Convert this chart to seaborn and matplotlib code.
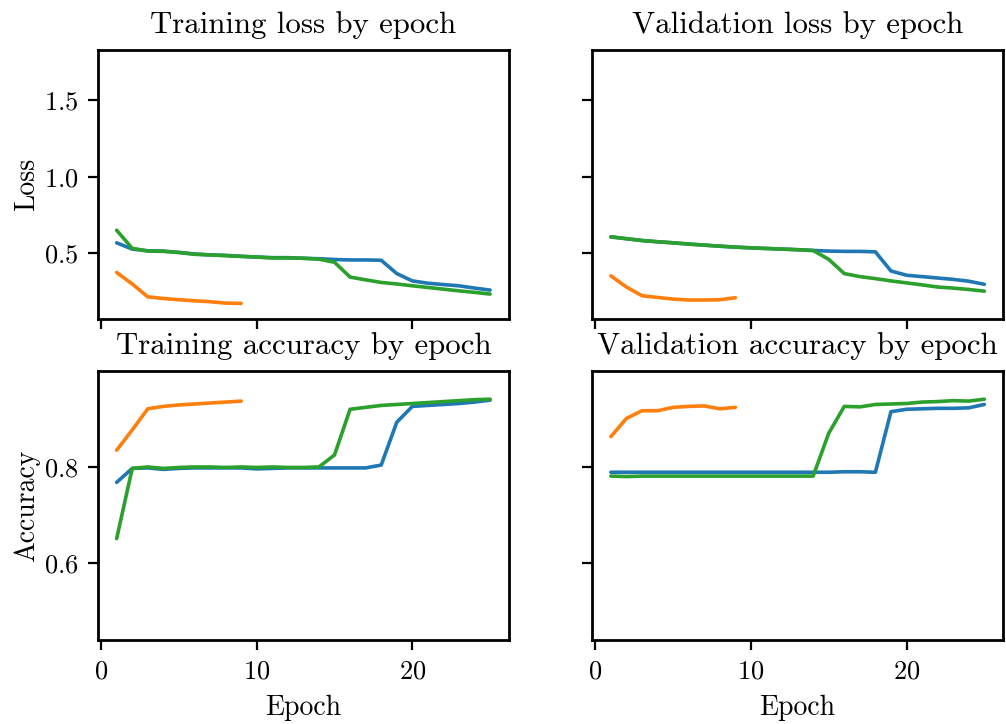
import numpy as np
import pandas as pd
import matplotlib
matplotlib.use("Agg")
import matplotlib.pyplot as plt
import seaborn as sns

# Per-run metric histories (epochs start at 1)
epochs_long = list(range(1, 26))
epochs_short = list(range(1, 10))

train_loss_a = [0.569, 0.528, 0.517, 0.515, 0.506, 0.496, 0.490, 0.487, 0.481, 0.476,
                0.472, 0.472, 0.468, 0.465, 0.460, 0.457, 0.457, 0.455, 0.368, 0.320,
                0.305, 0.296, 0.288, 0.273, 0.260]
train_loss_b = [0.375, 0.300, 0.216, 0.205, 0.197, 0.190, 0.184, 0.175, 0.173]
train_loss_c = [0.651, 0.533, 0.515, 0.513, 0.506, 0.494, 0.490, 0.485, 0.480, 0.476,
                0.470, 0.470, 0.468, 0.462, 0.442, 0.345, 0.327, 0.310, 0.300, 0.288,
                0.277, 0.266, 0.255, 0.245, 0.234]

val_loss_a = [0.608, 0.596, 0.584, 0.576, 0.569, 0.561, 0.554, 0.547, 0.541, 0.536,
              0.532, 0.528, 0.524, 0.519, 0.515, 0.513, 0.513, 0.510, 0.385, 0.357,
              0.348, 0.339, 0.330, 0.318, 0.298]
val_loss_b = [0.353, 0.280, 0.223, 0.212, 0.201, 0.195, 0.195, 0.197, 0.210]
val_loss_c = [0.608, 0.596, 0.584, 0.576, 0.569, 0.561, 0.554, 0.547, 0.541, 0.536,
              0.532, 0.528, 0.524, 0.519, 0.461, 0.368, 0.348, 0.335, 0.320, 0.307,
              0.294, 0.280, 0.273, 0.264, 0.253]

train_acc_a = [0.768, 0.797, 0.798, 0.795, 0.797, 0.798, 0.798, 0.798, 0.798, 0.796,
               0.797, 0.798, 0.798, 0.798, 0.798, 0.798, 0.798, 0.804, 0.893, 0.926,
               0.928, 0.930, 0.932, 0.935, 0.939]
train_acc_b = [0.835, 0.877, 0.921, 0.926, 0.929, 0.931, 0.933, 0.935, 0.937]
train_acc_c = [0.651, 0.797, 0.800, 0.797, 0.799, 0.800, 0.800, 0.799, 0.800, 0.799,
               0.800, 0.799, 0.799, 0.800, 0.825, 0.920, 0.924, 0.928, 0.930, 0.932,
               0.934, 0.936, 0.938, 0.940, 0.941]

val_acc_a = [0.789, 0.789, 0.789, 0.789, 0.789, 0.789, 0.789, 0.789, 0.789, 0.789,
             0.789, 0.789, 0.789, 0.789, 0.789, 0.790, 0.790, 0.789, 0.915, 0.920,
             0.921, 0.922, 0.922, 0.923, 0.930]
val_acc_b = [0.863, 0.901, 0.917, 0.917, 0.924, 0.926, 0.927, 0.921, 0.924]
val_acc_c = [0.781, 0.780, 0.781, 0.781, 0.781, 0.781, 0.781, 0.781, 0.781, 0.781,
             0.781, 0.781, 0.781, 0.781, 0.870, 0.926, 0.925, 0.930, 0.931, 0.932,
             0.935, 0.936, 0.938, 0.937, 0.941]

runs = ["run_a", "run_b", "run_c"]
titles = ["Training loss by epoch", "Validation loss by epoch",
          "Training accuracy by epoch", "Validation accuracy by epoch"]


def frame(series):
    rows = []
    for run, ys in zip(runs, series):
        for e, v in zip(epochs_long if len(ys) == 25 else epochs_short, ys):
            rows.append({"epoch": e, "value": v, "run": run})
    return pd.DataFrame(rows)


panels = [
    frame([train_loss_a, train_loss_b, train_loss_c]),
    frame([val_loss_a, val_loss_b, val_loss_c]),
    frame([train_acc_a, train_acc_b, train_acc_c]),
    frame([val_acc_a, val_acc_b, val_acc_c]),
]

sns.set_theme(style="ticks", rc={
    "axes.edgecolor": "black",
    "xtick.color": "black",
    "ytick.color": "black",
    "text.color": "black",
    "axes.labelcolor": "black",
    "axes.linewidth": 1.0,
})
plt.rcParams["font.family"] = "serif"
plt.rcParams["font.serif"] = ["cmr10", "DejaVu Serif"]
plt.rcParams["mathtext.fontset"] = "cm"
plt.rcParams["axes.formatter.use_mathtext"] = True

palette = dict(zip(runs, sns.color_palette("tab10", 3)))

fig, axes = plt.subplots(2, 2, figsize=(5.03, 3.62), dpi=200, sharex=True, sharey="row")
fig.subplots_adjust(left=0.0974, right=0.997, top=0.931, bottom=0.116,
                    wspace=0.203, hspace=0.192)

for ax, df, title in zip(axes.flat, panels, titles):
    sns.lineplot(data=df, x="epoch", y="value", hue="run", hue_order=runs,
                 palette=palette, linewidth=1.3, legend=False, ax=ax)
    ax.set_title(title, fontsize=11.1, pad=6)
    ax.set_xlabel("")
    ax.set_ylabel("")
    ax.tick_params(labelsize=9.5, length=3.5, width=0.8)

axes[0, 0].set_ylim(0.07, 1.83)
axes[0, 0].set_yticks([0.5, 1.0, 1.5])
axes[1, 0].set_ylim(0.44, 1.0)
axes[1, 0].set_yticks([0.6, 0.8])
axes[0, 0].set_xticks([0, 10, 20])

axes[0, 0].set_ylabel("Loss", fontsize=10, labelpad=1.5)
axes[1, 0].set_ylabel("Accuracy", fontsize=10, labelpad=1.5)
axes[1, 0].set_xlabel("Epoch", fontsize=10)
axes[1, 1].set_xlabel("Epoch", fontsize=10)

fig.savefig("out.png", dpi=200)
